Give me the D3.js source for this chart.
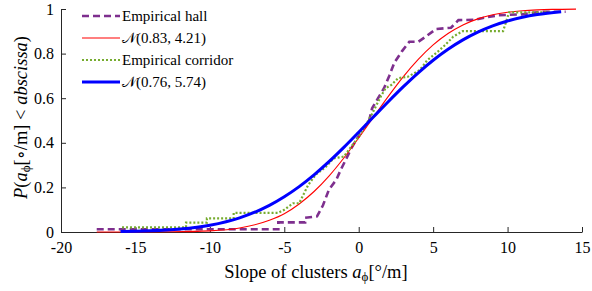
<!DOCTYPE html>
<html>
<head>
<meta charset="utf-8">
<script src="https://cdn.jsdelivr.net/npm/d3@7"></script>
<style>
  body { margin: 0; background: #fff; }
  svg text { font-family: "Liberation Serif", "DejaVu Serif", serif; }
</style>
</head>
<body>
<script>
// empirical CDF of hall slopes (corner points of the staircase)
var hallX = [-17.6, -5.4, -5.4, -3.6, -3.6, -2.8, -2.4, -2.0, -1.5, -1.2, -0.9, -0.5, -0.1, 0.3, 0.7, 0.9, 1.3, 1.7, 2.05, 2.4, 2.9, 3.4, 4.0, 4.5, 5.2, 6.2, 6.7, 7.8, 8.5, 9.4, 11.0, 12.2, 13.9];
var hallY = [0.012, 0.012, 0.043, 0.043, 0.064, 0.07, 0.12, 0.19, 0.235, 0.28, 0.32, 0.375, 0.42, 0.46, 0.50, 0.555, 0.60, 0.645, 0.70, 0.76, 0.81, 0.853, 0.853, 0.876, 0.91, 0.916, 0.95, 0.952, 0.962, 0.972, 0.976, 0.988, 0.988];

// fitted normal for hall, N(0.83, 4.21)
var hallFitX = [-17.6, -15, -12.5, -10, -8, -6, -5, -4, -3, -2, -1, 0, 1, 2, 3, 4, 5, 6, 7, 8, 9, 10, 11, 12, 13, 14.6];
var hallFitY = [0.0, 0.0001, 0.0008, 0.0051, 0.018, 0.0524, 0.0818, 0.1257, 0.1815, 0.2508, 0.332, 0.422, 0.516, 0.6095, 0.697, 0.774, 0.839, 0.890, 0.9287, 0.9557, 0.9739, 0.9853, 0.9922, 0.996, 0.9981, 0.9995];

// empirical CDF of corridor slopes
var corrX = [-15.9, -11.6, -11.6, -10.2, -10.2, -8.4, -8.4, -5.4, -5.0, -4.4, -4.0, -3.8, -3.4, -2.9, -2.2, -1.7, -1.0, -0.5, 0.0, 0.4, 0.9, 1.2, 1.5, 1.8, 2.2, 2.65, 3.3, 4.1, 4.6, 5.3, 5.8, 6.35, 7.0, 9.7, 10.1, 12.9];
var corrY = [0.021, 0.021, 0.042, 0.042, 0.061, 0.061, 0.086, 0.086, 0.10, 0.129, 0.129, 0.156, 0.21, 0.256, 0.293, 0.33, 0.338, 0.383, 0.427, 0.472, 0.53, 0.57, 0.61, 0.644, 0.66, 0.69, 0.696, 0.726, 0.77, 0.808, 0.838, 0.876, 0.901, 0.901, 0.985, 0.985];

// fitted normal for corridor, N(0.76, 5.74)
var corrFitX = [-16, -15, -14, -12, -10, -8, -6, -5, -4, -3, -2, -1, 0, 1, 2, 3, 4, 5, 6, 7, 8, 9, 10, 11, 12, 13.6];
var corrFitY = [0.0017, 0.0030, 0.0051, 0.0131, 0.0304, 0.0635, 0.1194, 0.158, 0.2035, 0.2562, 0.3153, 0.3795, 0.4474, 0.5167, 0.5855, 0.6517, 0.7138, 0.770, 0.8193, 0.8615, 0.8964, 0.9245, 0.9463, 0.9628, 0.9749, 0.9874];

var xTicks = [-20, -15, -10, -5, 0, 5, 10, 15];
var yTicks = [0, 0.2, 0.4, 0.6, 0.8, 1];
var legendNames = ["Empirical hall", "N(0.83, 4.21)", "Empirical corridor", "N(0.76, 5.74)"];

var width = 592, height = 291;
var margin = {top: 9, right: 10, bottom: 59, left: 61};

var svg = d3.select("body").append("svg")
    .attr("width", width)
    .attr("height", height);

var x = d3.scaleLinear().domain([-20, 15]).range([margin.left, width - margin.right]);
var y = d3.scaleLinear().domain([0, 1]).range([height - margin.bottom, margin.top]);

// axes, ticks pointing inward like matlab
var xAxis = svg.append("g")
    .attr("transform", "translate(0," + y(0) + ")")
    .call(d3.axisBottom(x).tickValues(xTicks).tickSize(-5).tickSizeOuter(0).tickPadding(9)
      .tickFormat(function(d) { return String(d); }));
var yAxis = svg.append("g")
    .attr("transform", "translate(" + x(-20) + ",0)")
    .call(d3.axisLeft(y).tickValues(yTicks).tickSize(-5).tickSizeOuter(0).tickPadding(7)
      .tickFormat(function(d) { return String(d); }));

[xAxis, yAxis].forEach(function(a) {
  a.attr("font-family", null);
  a.select(".domain").attr("stroke", "#262626");
  a.selectAll(".tick line").attr("stroke", "#262626");
  a.selectAll(".tick text").attr("font-size", 16).attr("fill", "#000");
});
xAxis.selectAll(".tick text").attr("dy", "0.75em");

function series(xs, ys) {
  return xs.map(function(v, i) { return [v, ys[i]]; });
}

var line = d3.line().x(function(d) { return x(d[0]); }).y(function(d) { return y(d[1]); });
var smooth = d3.line().curve(d3.curveMonotoneX)
    .x(function(d) { return x(d[0]); }).y(function(d) { return y(d[1]); });

var styles = [
  {color: "#7E2F8E", w: 2.6, dash: "7,4"},
  {color: "#FF0000", w: 1.1, dash: null},
  {color: "#77AC30", w: 2.2, dash: "2,2"},
  {color: "#0000FF", w: 3, dash: null}
];

var plots = [
  {data: series(hallX, hallY), gen: line},
  {data: series(hallFitX, hallFitY), gen: smooth},
  {data: series(corrX, corrY), gen: line},
  {data: series(corrFitX, corrFitY), gen: smooth}
];

plots.forEach(function(p, i) {
  svg.append("path")
    .attr("d", p.gen(p.data))
    .attr("fill", "none")
    .attr("stroke", styles[i].color)
    .attr("stroke-width", styles[i].w)
    .attr("stroke-dasharray", styles[i].dash);
});

// legend
var leg = svg.append("g");
legendNames.forEach(function(name, i) {
  var ly = 16 + i * 22;
  leg.append("line")
    .attr("x1", 82).attr("x2", 120).attr("y1", ly).attr("y2", ly)
    .attr("stroke", styles[i].color)
    .attr("stroke-width", styles[i].w)
    .attr("stroke-dasharray", styles[i].dash);
  var t = leg.append("text").attr("x", 122).attr("y", ly + 5).attr("font-size", 15);
  if (name.charAt(0) == "N") {
    t.append("tspan").text("\uD835\uDCA9").attr("font-size", 15);
    t.append("tspan").text(name.slice(1));
  } else {
    t.text(name);
  }
});

// x label
var xl = svg.append("text")
    .attr("x", 316).attr("y", 278)
    .attr("text-anchor", "middle")
    .attr("font-size", 18.5);
xl.append("tspan").text("Slope of clusters ");
xl.append("tspan").text("a").style("font-style", "italic");
xl.append("tspan").text("\u03D5").attr("font-size", 13).attr("dy", 3);
xl.append("tspan").text("[\u00B0/m]").attr("dy", -3);

// y label
var yl = svg.append("text")
    .attr("transform", "translate(27," + (y(0.5) - 3) + ") rotate(-90)")
    .attr("text-anchor", "middle")
    .attr("font-size", 18.5);
yl.append("tspan").text("P").style("font-style", "italic");
yl.append("tspan").text("(");
yl.append("tspan").text("a").style("font-style", "italic");
yl.append("tspan").text("\u03D5").attr("font-size", 13).attr("dy", 3);
yl.append("tspan").text("[\u2218/m]  <  ").attr("dy", -3);
yl.append("tspan").text("abscissa").style("font-style", "italic");
yl.append("tspan").text(")");
</script>
</body>
</html>
